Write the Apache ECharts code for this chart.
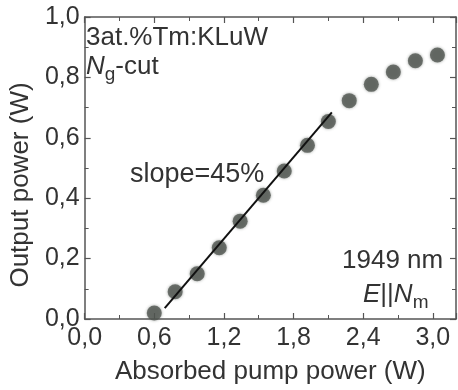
<!DOCTYPE html>
<html>
<head>
<meta charset="utf-8">
<script src="https://cdn.jsdelivr.net/npm/echarts@6/dist/echarts.min.js"></script>
<style>
  html, body { margin: 0; padding: 0; background: #fff; }
  #chart { width: 458px; height: 390px; }
</style>
</head>
<body>
<div id="chart"></div>
<script>
// measured points (absorbed pump power W -> output power W)
const pumpPower = [0.60, 0.78, 0.97, 1.16, 1.34, 1.54, 1.72, 1.92, 2.10, 2.28, 2.47, 2.66, 2.85, 3.04];
const outputPower = [0.02, 0.09, 0.15, 0.236, 0.324, 0.41, 0.49, 0.575, 0.654, 0.723, 0.777, 0.818, 0.855, 0.874];

// linear fit, slope 45%
const fitX = [0.69, 2.13];
const fitY = [0.036, 0.684];

const xTicks = { min: 0, max: 3.2, step: 0.6 };
const yTicks = { min: 0, max: 1.0, step: 0.2 };

const textColor = "#333";
const axisColor = "#555";
const font = "Arial, 'Liberation Sans', sans-serif";

const comma = (v) => v.toFixed(1).replace(".", ",");

const chart = echarts.init(document.getElementById("chart"));

const axisCommon = {
  type: "value",
  splitLine: { show: false },
  axisLine: { show: true, onZero: false, lineStyle: { color: axisColor, width: 1.5 } },
  axisTick: { show: true, inside: true, length: 6, lineStyle: { color: axisColor, width: 1.2 } },
  minorTick: { show: true, splitNumber: 2, length: 4, lineStyle: { color: axisColor, width: 1 } },
};

chart.setOption({
  backgroundColor: "#fff",
  animation: false,
  grid: { left: 78, top: 17, right: 2, bottom: 55 },
  xAxis: [
    {
      ...axisCommon,
      position: "bottom",
      min: xTicks.min,
      max: xTicks.max,
      interval: xTicks.step,
      axisLabel: {
        showMaxLabel: false,
        margin: 7,
        color: textColor,
        fontSize: 25,
        fontFamily: font,
        formatter: comma,
      },
      name: "Absorbed pump power (W)",
      nameLocation: "middle",
      nameGap: 40,
      nameTextStyle: { color: textColor, fontSize: 26, fontFamily: font },
    },
    {
      ...axisCommon,
      position: "top",
      min: xTicks.min,
      max: xTicks.max,
      interval: xTicks.step,
      axisLabel: { show: false },
    },
  ],
  yAxis: [
    {
      ...axisCommon,
      position: "left",
      min: yTicks.min,
      max: yTicks.max,
      interval: yTicks.step,
      axisLabel: {
        margin: 5,
        color: textColor,
        fontSize: 25,
        fontFamily: font,
        formatter: comma,
      },
      name: "Output power (W)",
      nameLocation: "middle",
      nameGap: 49,
      nameTextStyle: { color: textColor, fontSize: 26, fontFamily: font, padding: [0, 34, 0, 0] },
    },
    {
      ...axisCommon,
      position: "right",
      min: yTicks.min,
      max: yTicks.max,
      interval: yTicks.step,
      axisLabel: { show: false },
    },
  ],
  series: [
    {
      type: "scatter",
      data: pumpPower.map((x, i) => [x, outputPower[i]]),
      symbolSize: 15,
      itemStyle: { color: "#515651", shadowBlur: 3, shadowColor: "rgba(60,70,60,0.6)" },
      z: 2,
    },
    {
      type: "line",
      data: fitX.map((x, i) => [x, fitY[i]]),
      symbol: "none",
      lineStyle: { color: "#111", width: 2 },
      z: 3,
    },
  ],
  graphic: [
    {
      type: "text",
      left: 86,
      top: 25,
      style: { text: "3at.%Tm:KLuW", fill: textColor, fontSize: 26, fontFamily: font },
    },
    {
      type: "text",
      left: 86,
      top: 54,
      style: {
        text: "{i|N}{s|g}{n|-cut}",
        fill: textColor,
        fontFamily: font,
        rich: {
          i: { fontSize: 26, fontStyle: "italic", fill: textColor, fontFamily: font },
          s: { fontSize: 19, fill: textColor, fontFamily: font, padding: [16, 0, 0, 0] },
          n: { fontSize: 26, fill: textColor, fontFamily: font },
        },
      },
    },
    {
      type: "text",
      left: 130,
      top: 161,
      style: { text: "slope=45%", fill: textColor, fontSize: 27, fontFamily: font },
    },
    {
      type: "text",
      left: 342,
      top: 248,
      style: { text: "1949 nm", fill: textColor, fontSize: 26, fontFamily: font },
    },
    {
      type: "text",
      left: 363,
      top: 282,
      style: {
        text: "{i|E}{n|||}{i|N}{s|m}",
        fill: textColor,
        fontFamily: font,
        rich: {
          i: { fontSize: 26, fontStyle: "italic", fill: textColor, fontFamily: font },
          s: { fontSize: 19, fill: textColor, fontFamily: font, padding: [16, 0, 0, 0] },
          n: { fontSize: 26, fill: textColor, fontFamily: font },
        },
      },
    },
  ],
});
</script>
</body>
</html>
